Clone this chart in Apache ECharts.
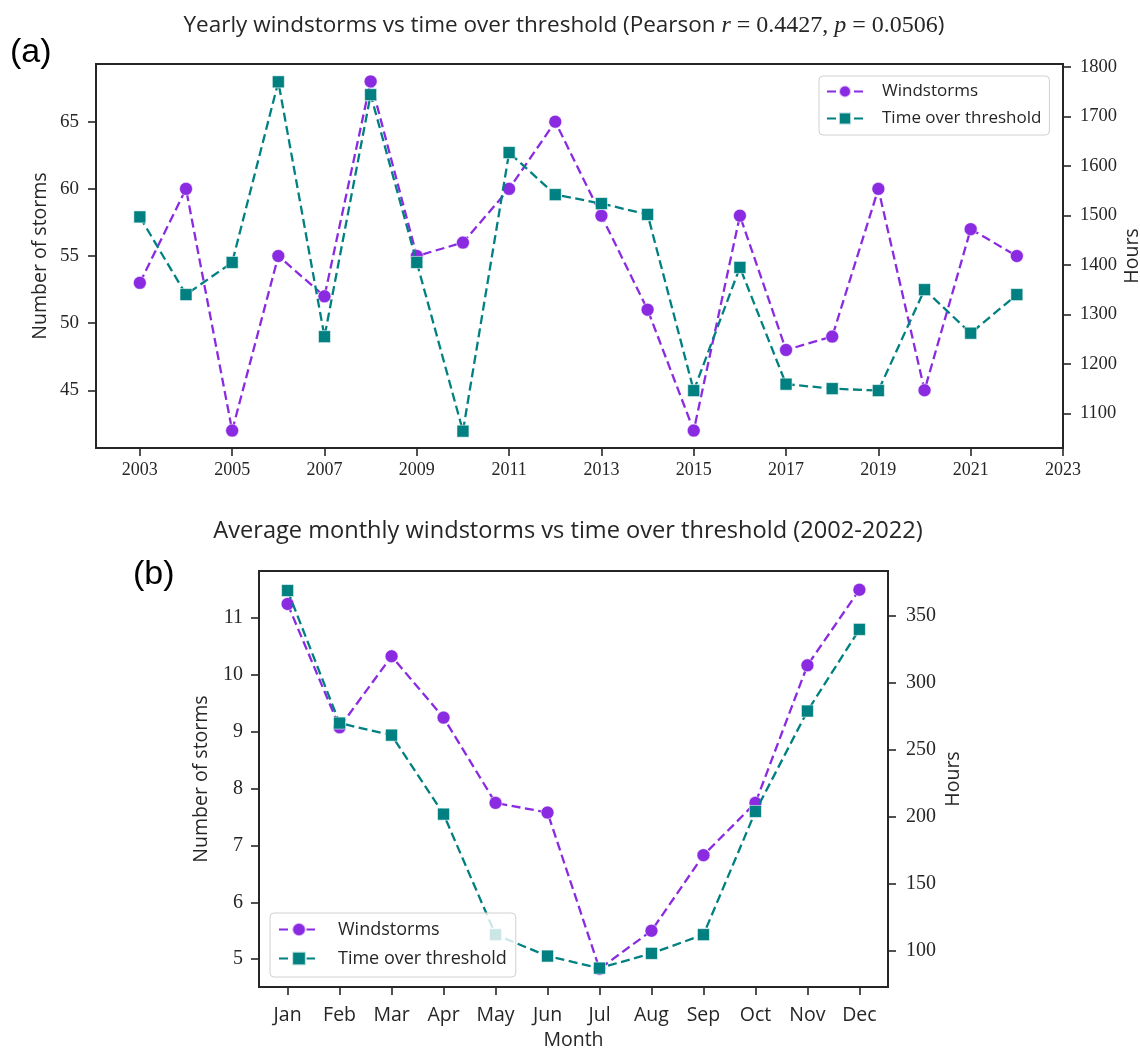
<!DOCTYPE html>
<html>
<head>
<meta charset="utf-8">
<script src="https://cdn.jsdelivr.net/npm/echarts@6/dist/echarts.min.js"></script>
<style>html,body{margin:0;padding:0;background:#fff}#main{width:1140px;height:1049px}</style>
</head>
<body>
<div id="main"></div>
<script>
// ---- Data ----
const years = [2003,2004,2005,2006,2007,2008,2009,2010,2011,2012,2013,2014,2015,2016,2017,2018,2019,2020,2021,2022];
const yearlyStorms = [53,60,42,55,52,68,55,56,60,65,58,51,42,58,48,49,60,45,57,55];
const yearlyHours = [1497,1340,1405,1770,1255,1744,1405,1064,1627,1542,1524,1502,1146,1395,1159,1150,1146,1350,1262,1340];
const yearTicks = [2003,2005,2007,2009,2011,2013,2015,2017,2019,2021,2023];
const yearlyStormTicks = [45,50,55,60,65];
const yearlyHourTicks = [1100,1200,1300,1400,1500,1600,1700,1800];

const months = ['Jan','Feb','Mar','Apr','May','Jun','Jul','Aug','Sep','Oct','Nov','Dec'];
const monthlyStorms = [11.25,9.08,10.33,9.25,7.75,7.58,4.83,5.5,6.83,7.75,10.17,11.5];
const monthlyHours = [369,270,261,202,112,96,87,98,112,204,279,340];
const monthlyStormTicks = [5,6,7,8,9,10,11];
const monthlyHourTicks = [100,150,200,250,300,350];

const PURPLE = '#8A2BE2', TEAL = '#008080', INK = '#262626';
const SERIF = '"Liberation Serif", "DejaVu Serif", serif';
const SANS = '"Open Sans", Lato, sans-serif';

const chart = echarts.init(document.getElementById('main'), null, {renderer: 'canvas'});

function vAxis(o) {
  return Object.assign({
    type: 'value',
    splitLine: {show: false},
    axisLine: {show: false, onZero: false},
    nameMoveOverlap: false,
    axisTick: {show: true, inside: false, length: 8, lineStyle: {color: INK, width: 1.6}, customValues: o.ticks},
    axisLabel: {show: true, color: INK, fontFamily: o.ff || SERIF, fontSize: o.fs, margin: o.margin,
      customValues: o.ticks, formatter: o.fmt || (v => String(v))},
    nameTextStyle: {color: INK, fontFamily: SANS, fontSize: o.nfs || 19.5}
  }, o.extra || {});
}

const stormSeriesStyle = {
  type: 'line', symbol: 'circle', symbolSize: 13,
  lineStyle: {color: PURPLE, width: 2.3, type: [9, 4.5]},
  itemStyle: {color: PURPLE, borderColor: 'rgba(255,255,255,0.7)', borderWidth: 0.8},
  emphasis: {disabled: true}, animation: false, z: 2
};
const hourSeriesStyle = {
  type: 'line', symbol: 'rect', symbolSize: 12,
  lineStyle: {color: TEAL, width: 2.3, type: [9, 4.5]},
  itemStyle: {color: TEAL, borderColor: 'rgba(255,255,255,0.7)', borderWidth: 0.8},
  emphasis: {disabled: true}, animation: false, z: 3
};

const legendBase = {
  orient: 'vertical',
  data: ['Windstorms', 'Time over threshold'],
  backgroundColor: 'rgba(255,255,255,0.8)', borderColor: '#d0d0d0', borderWidth: 1, borderRadius: 4,
  selectedMode: false
};

const option = {
  backgroundColor: '#ffffff',
  animation: false,
  title: [
    {
      text: '{s|Yearly windstorms vs time over threshold (Pearson }{i|r}{m| = 0.4427, }{i|p}{m| = 0.0506}{s|)}',
      left: 559, top: 9, textAlign: 'center',
      textStyle: {fontWeight: 'normal', rich: {
        s: {fontFamily: SANS, fontSize: 22.5, fontWeight: 'normal', color: INK},
        i: {fontFamily: SERIF, fontStyle: 'italic', fontWeight: 'normal', fontSize: 24, color: INK},
        m: {fontFamily: SERIF, fontSize: 24, fontWeight: 'normal', color: INK}
      }}
    },
    {
      text: 'Average monthly windstorms vs time over threshold (2002-2022)',
      left: 563, top: 514, textAlign: 'center',
      textStyle: {fontFamily: SANS, fontSize: 23.6, fontWeight: 'normal', color: INK}
    }
  ],
  grid: [
    {left: 96, top: 64, width: 967, height: 384, show: true, borderColor: INK, borderWidth: 2,
      backgroundColor: 'transparent', outerBoundsMode: 'none', containLabel: false},
    {left: 259, top: 571, width: 629, height: 416, show: true, borderColor: INK, borderWidth: 2,
      backgroundColor: 'transparent', outerBoundsMode: 'none', containLabel: false}
  ],
  xAxis: [
    vAxis({ticks: yearTicks, fs: 18, margin: 13, extra: {gridIndex: 0, min: 2002.05, max: 2023}}),
    vAxis({ticks: months.map((m, i) => i), ff: SANS, fs: 19.5, margin: 18,
      fmt: v => months[Math.round(v)] || '',
      extra: {gridIndex: 1, min: -0.55, max: 11.55, name: 'Month', nameLocation: 'middle', nameGap: 43}})
  ],
  yAxis: [
    vAxis({ticks: yearlyStormTicks, fs: 19, margin: 17, extra: {gridIndex: 0, min: 40.7, max: 69.3,
      name: 'Number of storms', nameLocation: 'middle', nameGap: 46, nameRotate: 90}}),
    vAxis({ticks: yearlyHourTicks, fs: 18.5, margin: 17, extra: {gridIndex: 0, position: 'right', min: 1030, max: 1806,
      name: 'Hours', nameLocation: 'middle', nameGap: 59, nameRotate: 90}}),
    vAxis({ticks: monthlyStormTicks, fs: 20, margin: 16, extra: {gridIndex: 1, min: 4.51, max: 11.83,
      name: 'Number of storms', nameLocation: 'middle', nameGap: 48, nameRotate: 90}}),
    vAxis({ticks: monthlyHourTicks, fs: 20, margin: 18, extra: {gridIndex: 1, position: 'right', min: 72.9, max: 383.6,
      name: 'Hours', nameLocation: 'middle', nameGap: 55, nameRotate: 90}})
  ],
  legend: [
    Object.assign({}, legendBase, {
      left: 819, top: 76,
      itemWidth: 36, itemHeight: 15, itemGap: 8,
      padding: [6, 8, 7, 7],
      textStyle: {fontFamily: SANS, fontSize: 17, color: INK, lineHeight: 19, padding: [0, 0, 0, 14]}
    }),
    Object.assign({}, legendBase, {
      left: 270, top: 913,
      itemWidth: 40, itemHeight: 17, itemGap: 8,
      padding: [6, 9, 8, 8],
      textStyle: {fontFamily: SANS, fontSize: 18, color: INK, lineHeight: 21, padding: [0, 0, 0, 14]}
    })
  ],
  graphic: [
    {type: 'text', left: 10, top: 36, style: {text: '(a)', font: '34px "Liberation Sans", Arial, sans-serif', fill: '#000'}},
    {type: 'text', left: 133, top: 558, style: {text: '(b)', font: '34px "Liberation Sans", Arial, sans-serif', fill: '#000'}}
  ],
  series: [
    Object.assign({}, stormSeriesStyle, {name: 'Windstorms', xAxisIndex: 0, yAxisIndex: 0,
      data: years.map((y, i) => [y, yearlyStorms[i]])}),
    Object.assign({}, hourSeriesStyle, {name: 'Time over threshold', xAxisIndex: 0, yAxisIndex: 1,
      data: years.map((y, i) => [y, yearlyHours[i]])}),
    Object.assign({}, stormSeriesStyle, {name: 'Windstorms', xAxisIndex: 1, yAxisIndex: 2,
      data: months.map((m, i) => [i, monthlyStorms[i]])}),
    Object.assign({}, hourSeriesStyle, {name: 'Time over threshold', xAxisIndex: 1, yAxisIndex: 3,
      data: months.map((m, i) => [i, monthlyHours[i]])})
  ]
};
chart.setOption(option);
</script>
</body>
</html>
